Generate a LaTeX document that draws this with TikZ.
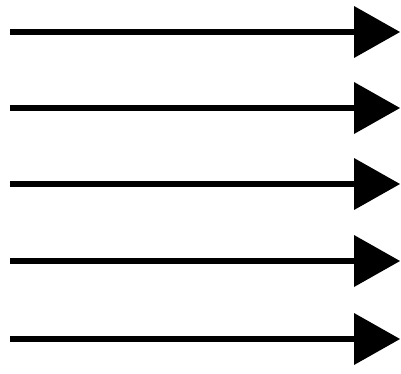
\documentclass[tikz,border=0pt]{standalone}
\begin{document}
\begin{tikzpicture}[x=1pt,y=-1pt,
  shaft/.style={line width=6.5pt},
  head/.style={fill=black}]
\useasboundingbox (0,0) rectangle (401,373);
\foreach \i/\y in {1/32,2/108,3/184,4/261,5/339}{
  \coordinate (s\i) at (10,\y);
  \coordinate (b\i) at (354,\y);
  \coordinate (t\i) at (400,\y);
  \draw[shaft] (s\i) -- (b\i);
  \fill[head] ([yshift=-26pt]b\i) -- (t\i) -- ([yshift=26pt]b\i) -- cycle;
}
\end{tikzpicture}
\end{document}
